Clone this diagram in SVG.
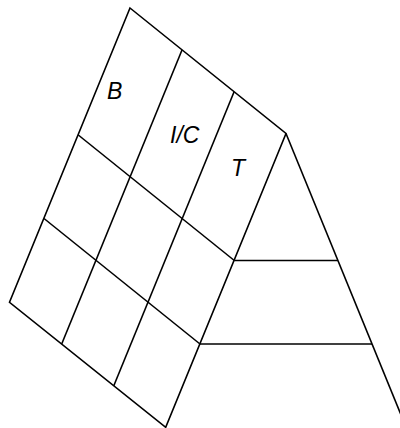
<svg xmlns="http://www.w3.org/2000/svg" width="400" height="428" viewBox="0 0 400 428">
  <style>
    .ln { fill: none; stroke: #000; stroke-width: 1.6; stroke-linejoin: miter; stroke-linecap: butt; }
    .lbl { font-family: "Liberation Sans", Arial, sans-serif; font-style: italic; font-size: 23px; fill: #000; }
  </style>
  <rect x="0" y="0" width="400" height="428" fill="#fff"/>
  <g id="grid">
    <polygon class="ln" points="130,8 286,133.5 165.7,427.3 9.5,302.3"/>
    <line class="ln" x1="182" y1="50" x2="61.7" y2="344"/>
    <line class="ln" x1="234" y1="92" x2="113.7" y2="386"/>
    <line class="ln" x1="78.3" y1="135" x2="234.3" y2="260.5"/>
    <line class="ln" x1="44" y1="218.5" x2="200" y2="344"/>
  </g>
  <g id="triangle">
    <line class="ln" x1="286" y1="133.5" x2="406" y2="427"/>
    <line class="ln" x1="234.3" y1="260.5" x2="337.9" y2="260.5"/>
    <line class="ln" x1="200" y1="344" x2="372" y2="344"/>
  </g>
  <g id="labels">
    <text class="lbl" x="107" y="99">B</text>
    <text class="lbl" x="170" y="143">I/C</text>
    <text class="lbl" x="231" y="175.5">T</text>
  </g>
</svg>
